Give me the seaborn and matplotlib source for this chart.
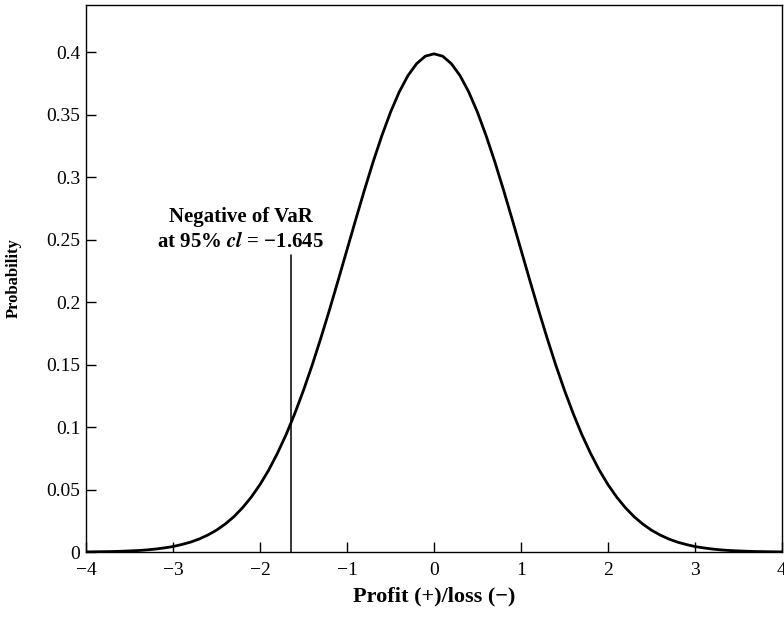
import matplotlib
matplotlib.use("Agg")
import matplotlib.pyplot as plt
import seaborn as sns
import pandas as pd

# values (profit/loss vs probability)
pl_values = [-4.0, -3.9, -3.8, -3.7, -3.6, -3.5, -3.4, -3.3, -3.2, -3.1,
             -3.0, -2.9, -2.8, -2.7, -2.6, -2.5, -2.4, -2.3, -2.2, -2.1,
             -2.0, -1.9, -1.8, -1.7, -1.6, -1.5, -1.4, -1.3, -1.2, -1.1,
             -1.0, -0.9, -0.8, -0.7, -0.6, -0.5, -0.4, -0.3, -0.2, -0.1,
             0.0, 0.1, 0.2, 0.3, 0.4, 0.5, 0.6, 0.7, 0.8, 0.9,
             1.0, 1.1, 1.2, 1.3, 1.4, 1.5, 1.6, 1.7, 1.8, 1.9,
             2.0, 2.1, 2.2, 2.3, 2.4, 2.5, 2.6, 2.7, 2.8, 2.9,
             3.0, 3.1, 3.2, 3.3, 3.4, 3.5, 3.6, 3.7, 3.8, 3.9, 4.0]
probability = [0.0001, 0.0002, 0.0003, 0.0004, 0.0006, 0.0009, 0.0012, 0.0017, 0.0024, 0.0033,
               0.0044, 0.0060, 0.0079, 0.0104, 0.0136, 0.0175, 0.0224, 0.0283, 0.0355, 0.0440,
               0.0540, 0.0656, 0.0790, 0.0940, 0.1109, 0.1295, 0.1497, 0.1714, 0.1942, 0.2179,
               0.2420, 0.2661, 0.2897, 0.3123, 0.3332, 0.3521, 0.3683, 0.3814, 0.3910, 0.3970,
               0.3989, 0.3970, 0.3910, 0.3814, 0.3683, 0.3521, 0.3332, 0.3123, 0.2897, 0.2661,
               0.2420, 0.2179, 0.1942, 0.1714, 0.1497, 0.1295, 0.1109, 0.0940, 0.0790, 0.0656,
               0.0540, 0.0440, 0.0355, 0.0283, 0.0224, 0.0175, 0.0136, 0.0104, 0.0079, 0.0060,
               0.0044, 0.0033, 0.0024, 0.0017, 0.0012, 0.0009, 0.0006, 0.0004, 0.0003, 0.0002, 0.0001]
var_line_x = -1.645
var_line_top = 0.238
x_ticks = [-4, -3, -2, -1, 0, 1, 2, 3, 4]
x_tick_labels = ["\u22124", "\u22123", "\u22122", "\u22121", "0", "1", "2", "3", "4"]
y_ticks = [0, 0.05, 0.1, 0.15, 0.2, 0.25, 0.3, 0.35, 0.4]
y_tick_labels = ["0", "0.05", "0.1", "0.15", "0.2", "0.25", "0.3", "0.35", "0.4"]

df = pd.DataFrame({"pl": pl_values, "prob": probability})

sns.set_theme(style="white")
plt.rcParams["font.family"] = ["Liberation Serif", "DejaVu Serif"]
plt.rcParams["mathtext.fontset"] = "stix"
plt.rcParams["text.color"] = "black"
plt.rcParams["axes.labelcolor"] = "black"

fig = plt.figure(figsize=(7.84, 6.17), dpi=100)
ax = fig.add_axes([0.1097, 0.1053, 0.8877, 0.8866])

sns.lineplot(data=df, x="pl", y="prob", color="black", linewidth=2.0, ax=ax)
ax.plot([var_line_x, var_line_x], [0, var_line_top], color="black", linewidth=1.1)

# annotation for the VaR line
ax.text(-2.22, 0.268, "Negative of VaR", ha="center", va="center",
        fontsize=15, fontweight="bold")
ax.text(-2.22, 0.248, "at 95% $\\mathbfit{cl}$ = \u22121.645", ha="center", va="center",
        fontsize=15, fontweight="bold")

ax.set_xlim(-4, 4)
ax.set_ylim(0, 0.438)
ax.set_xticks(x_ticks)
ax.set_xticklabels(x_tick_labels)
ax.set_yticks(y_ticks)
ax.set_yticklabels(y_tick_labels)
ax.tick_params(direction="in", length=7.2, width=1, labelsize=14, colors="black",
               bottom=True, left=True, pad=4)
ax.tick_params(axis="x", pad=7.5)
ax.set_xlabel("Profit (+)/loss (\u2212)", fontsize=16, fontweight="bold", labelpad=5)
ax.set_ylabel("Probability", fontsize=12, fontweight="bold", labelpad=18)
for s in ax.spines.values():
    s.set_color("black")
    s.set_linewidth(1.0)

fig.savefig("out.png", dpi=100)
